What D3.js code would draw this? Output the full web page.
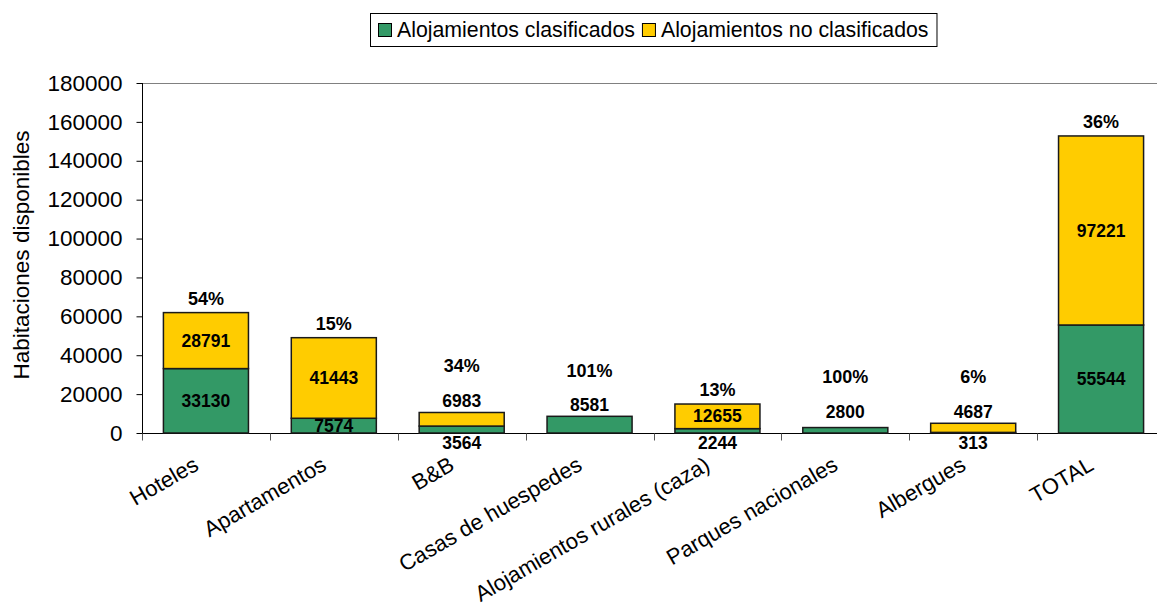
<!DOCTYPE html>
<html>
<head>
<meta charset="utf-8">
<script src="https://cdn.jsdelivr.net/npm/d3@7"></script>
<style>
  html, body { margin: 0; padding: 0; background: #fff; }
  svg { display: block; font-family: "Liberation Sans", Arial, sans-serif; }
</style>
</head>
<body>
<svg id="chart" width="1157" height="610"></svg>
<script>
// ---- data ----
const categories = ["Hoteles", "Apartamentos", "B&B", "Casas de huespedes",
  "Alojamientos rurales (caza)", "Parques nacionales", "Albergues", "TOTAL"];
const clasificados = [33130, 7574, 3564, 8581, 2244, 2800, 313, 55544];
const noClasificados = [28791, 41443, 6983, 0, 12655, 0, 4687, 97221];
const percentLabels = ["54%", "15%", "34%", "101%", "13%", "100%", "6%", "36%"];
const yTicks = [0, 20000, 40000, 60000, 80000, 100000, 120000, 140000, 160000, 180000];
const seriesNames = ["Alojamientos clasificados", "Alojamientos no clasificados"];
const yTitle = "Habitaciones disponibles";

// ---- layout / style ----
const colors = ["#339966", "#FFCC00"];
const plot = { left: 142, right: 1165, top: 83, bottom: 433 };
const svg = d3.select("#chart");

const x = d3.scaleBand().domain(categories)
  .range([plot.left, plot.right]).paddingInner(0.335).paddingOuter(0.1675);
const y = d3.scaleLinear().domain([0, 180000]).range([plot.bottom, plot.top]);

const rows = categories.map((c, i) => ({ cat: c, a: clasificados[i], b: noClasificados[i], pct: percentLabels[i] }));
const stack = d3.stack().keys(["a", "b"])(rows);

// top border of plot area
svg.append("line").attr("x1", plot.left).attr("x2", 1157)
  .attr("y1", plot.top + 0.5).attr("y2", plot.top + 0.5)
  .attr("stroke", "#808080").attr("stroke-width", 1);

// y axis
const yAxis = d3.axisLeft(y).tickValues(yTicks).tickSize(6).tickPadding(14).tickFormat(d3.format("d"));
const gy = svg.append("g").attr("transform", `translate(${plot.left + 0.5},0)`).call(yAxis);
gy.select(".domain").attr("stroke", "#000").attr("d", `M0,${plot.top}V${plot.bottom}`);
gy.selectAll(".tick line").attr("stroke", "#000");
gy.selectAll(".tick text").attr("font-size", "22.5px").attr("fill", "#000")
  .attr("font-family", "Liberation Sans, Arial, sans-serif");

// x axis (category boundaries as ticks)
const gx = svg.append("g").attr("transform", `translate(0,${plot.bottom + 0.5})`);
gx.append("line").attr("x1", plot.left).attr("x2", 1157).attr("stroke", "#000");
const step = x.step();
gx.selectAll("line.tk").data(d3.range(categories.length + 1)).join("line")
  .attr("class", "tk")
  .attr("x1", i => Math.round(plot.left + i * step) + 0.5)
  .attr("x2", i => Math.round(plot.left + i * step) + 0.5)
  .attr("y1", 0).attr("y2", 7).attr("stroke", "#555");

// category labels
svg.append("g").selectAll("text").data(categories).join("text")
  .attr("transform", d => `translate(${x(d) + x.bandwidth() / 2 - 6},${469}) rotate(-30)`)
  .attr("text-anchor", "end")
  .attr("font-size", "22px").attr("fill", "#000")
  .text(d => d);

// bars
stack.forEach((layer, si) => {
  svg.append("g").selectAll("rect").data(layer.filter(d => d[1] - d[0] > 0)).join("rect")
    .attr("x", d => x(d.data.cat))
    .attr("width", x.bandwidth())
    .attr("y", d => y(d[1]))
    .attr("height", d => y(d[0]) - y(d[1]))
    .attr("fill", colors[si])
    .attr("stroke", "#1a1a1a").attr("stroke-width", 1.5);
});

// value labels & percentages
const lbl = svg.append("g").attr("font-weight", "bold").attr("font-size", "17.5px")
  .attr("fill", "#000").attr("text-anchor", "middle");
rows.forEach((r, i) => {
  const cx = x(r.cat) + x.bandwidth() / 2;
  const top = y(r.a + r.b);
  let aboveY = null;
  // green segment label
  const hA = y(0) - y(r.a);
  let yA;
  if (r.b === 0) { yA = Math.min(top - 11, plot.bottom - 21); aboveY = yA; }
  else if (hA >= 10) yA = (y(0) + y(r.a)) / 2;
  else yA = plot.bottom + 10;
  lbl.append("text").attr("x", cx).attr("y", yA).attr("dy", "0.35em").text(r.a);
  // yellow segment label
  if (r.b > 0) {
    const hB = y(r.a) - y(r.a + r.b);
    let yB;
    if (hB >= 20) yB = (y(r.a) + y(r.a + r.b)) / 2;
    else { yB = top - 11.5; aboveY = yB; }
    lbl.append("text").attr("x", cx).attr("y", yB).attr("dy", "0.35em").text(r.b);
  }
  const yP = aboveY !== null ? aboveY - 35 : top - 14;
  lbl.append("text").attr("x", cx).attr("y", yP).attr("dy", "0.35em").attr("font-size", "18px").text(r.pct);
});

// y title
svg.append("text").attr("transform", "translate(29,255) rotate(-90)")
  .attr("text-anchor", "middle").attr("font-size", "22.5px").attr("fill", "#000")
  .text(yTitle);

// legend
const leg = svg.append("g");
const box = leg.append("rect").attr("x", 370.5).attr("y", 13.5).attr("height", 33)
  .attr("fill", "#fff").attr("stroke", "#000").attr("stroke-width", 1);
let lx = 378;
seriesNames.forEach((name, i) => {
  leg.append("rect").attr("x", lx + 0.5).attr("y", 23.5).attr("width", 13).attr("height", 13)
    .attr("fill", colors[i]).attr("stroke", "#000").attr("stroke-width", 1);
  const t = leg.append("text").attr("x", lx + 19).attr("y", 30).attr("dy", "0.35em")
    .attr("font-size", "21.3px").attr("fill", "#000").text(name);
  lx = lx + 19 + t.node().getComputedTextLength() + 7;
});
box.attr("width", lx - 370 + 1);
</script>
</body>
</html>
